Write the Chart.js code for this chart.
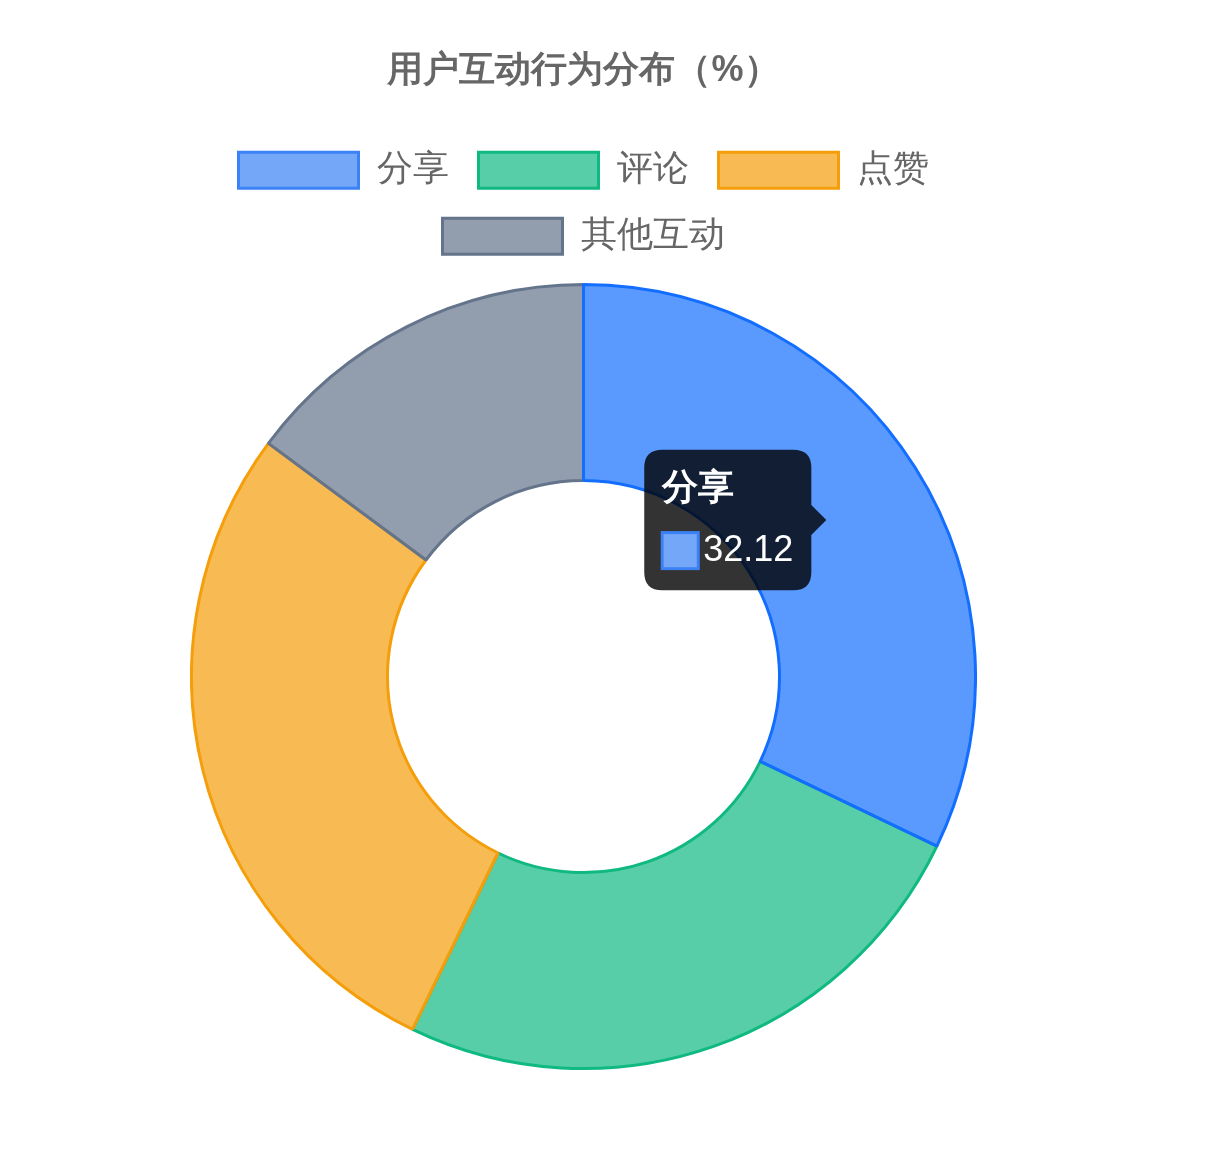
<!DOCTYPE html>
<html lang="zh">
<head>
    <meta charset="UTF-8">
    <title>用户互动行为分布</title>
    <script src="https://cdn.jsdelivr.net/npm/chart.js"></script>
    <style>
        html, body { margin: 0; padding: 0; background: #fff; }
        #box { position: absolute; left: 190px; top: 19px; width: 787px; height: 1070px; }
    </style>
</head>
<body>
    <div id="box"><canvas id="interactChart"></canvas></div>

    <script>
        // 数据
        const categories = ['分享', '评论', '点赞', '其他互动'];
        const shares = [32.12, 25.06, 27.96, 14.86];
        const fillColors = ['rgba(59, 130, 246, 0.7)', 'rgba(16, 185, 129, 0.7)', 'rgba(245, 158, 11, 0.7)', 'rgba(100, 116, 139, 0.7)'];
        const lineColors = ['#3B82F6', '#10B981', '#F59E0B', '#64748B'];

        Chart.defaults.font.size = 36;

        const ctx = document.getElementById('interactChart').getContext('2d');
        const chart = new Chart(ctx, {
            type: 'doughnut',
            data: {
                labels: categories,
                datasets: [{
                    data: shares,
                    backgroundColor: fillColors,
                    borderColor: lineColors,
                    borderWidth: 3,
                    hoverOffset: 0
                }]
            },
            options: {
                responsive: true,
                maintainAspectRatio: false,
                animation: false,
                cutout: '50%',
                plugins: {
                    title: {
                        display: true,
                        text: '用户互动行为分布（%）',
                        padding: 30,
                        font: { size: 36, weight: 'bold' }
                    },
                    legend: {
                        labels: { boxWidth: 120, padding: 30 }
                    },
                    tooltip: {
                        padding: 18,
                        caretSize: 15,
                        caretPadding: 6,
                        cornerRadius: 18,
                        titleMarginBottom: 18,
                        titleSpacing: 6,
                        bodySpacing: 6,
                        boxPadding: 3,
                        titleFont: { size: 36, weight: 'bold' },
                        bodyFont: { size: 36 }
                    }
                }
            }
        });

        // 显示“分享”的提示框
        const act = [{ datasetIndex: 0, index: 0 }];
        const arc = chart.getDatasetMeta(0).data[0];
        const pos = arc.tooltipPosition();
        chart.setActiveElements(act);
        chart.tooltip.setActiveElements(act, pos);
        chart.update();
    </script>
</body>
</html>
